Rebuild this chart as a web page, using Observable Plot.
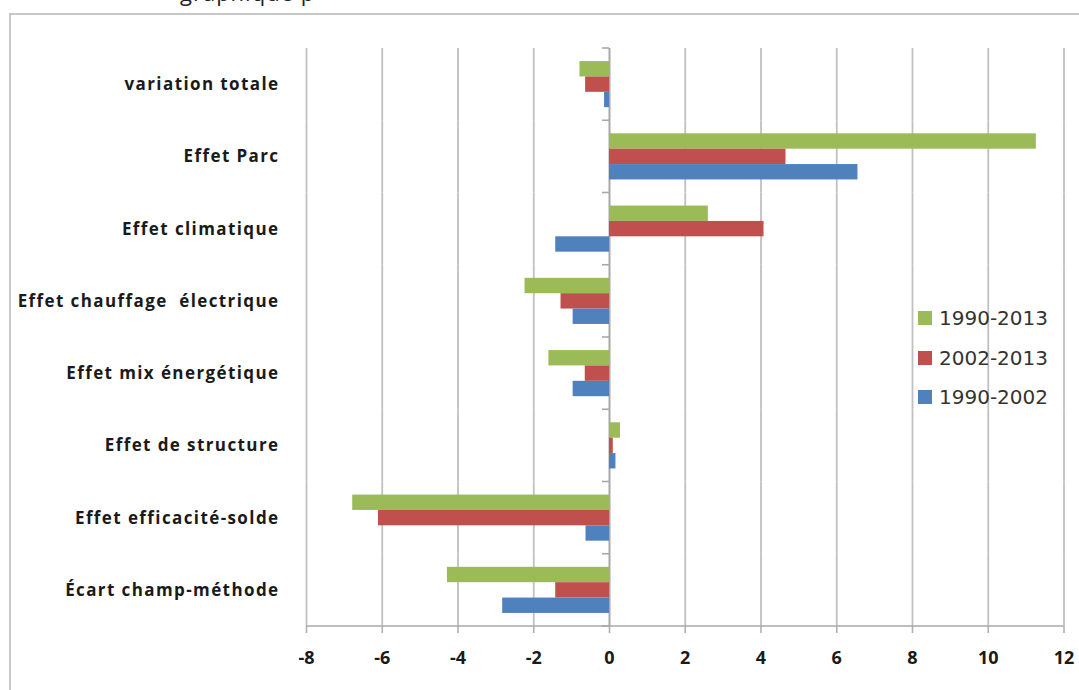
<!DOCTYPE html>
<html><head><meta charset="utf-8">
<script src="https://cdn.jsdelivr.net/npm/d3@7"></script>
<script src="https://cdn.jsdelivr.net/npm/@observablehq/plot@0.6"></script>
<style>
body{margin:0;background:#fff;width:1079px;height:690px;overflow:hidden;position:relative;font-family:"Open Sans",sans-serif;}
#toptext{position:absolute;left:180px;top:-23px;font-size:22px;letter-spacing:1px;color:#222;white-space:nowrap;}
#frame{position:absolute;left:9px;top:13px;width:1200px;height:800px;border:2px solid #c8c8c8;box-sizing:border-box;}
#chart{position:absolute;left:0;top:0;}
#legend{position:absolute;left:918px;top:305px;font-family:"DejaVu Sans",sans-serif;font-size:20px;color:#333;}
#legend .row{height:39.5px;display:flex;align-items:flex-start;line-height:26px;}
#legend .sw{width:14px;height:14px;margin:6px 7px 0 0;}
</style></head>
<body>
<div id="toptext">graphique p</div>
<div id="frame"></div>
<div id="chart"></div>
<div id="legend"></div>
<script>
const categories = ["variation totale","Effet Parc","Effet climatique","Effet chauffage  électrique","Effet mix énergétique","Effet de structure","Effet efficacité-solde","Écart champ-méthode"];
const series = ["1990-2013","2002-2013","1990-2002"];
const v1990_2013 = [-0.78, 11.27, 2.61, -2.23, -1.6, 0.29, -6.78, -4.28];
const v2002_2013 = [-0.63, 4.66, 4.08, -1.28, -0.64, 0.1, -6.1, -1.42];
const v1990_2002 = [-0.13, 6.56, -1.42, -0.96, -0.96, 0.17, -0.62, -2.82];
const xTicks = [-8,-6,-4,-2,0,2,4,6,8,10,12];
const colors = ["#9BBB59","#C0504D","#4F81BD"];

const seriesValues = [v1990_2013, v2002_2013, v1990_2002];
const rows = [];
categories.forEach((c,i)=>series.forEach((s,j)=>rows.push({cat:c, series:s, value:seriesValues[j][i]})));

const plot = Plot.plot({
  width:1079, height:690,
  marginLeft:306, marginRight:15.5, marginTop:48, marginBottom:64,
  style:{fontFamily:"'Open Sans', sans-serif", color:"#1a1a1a", background:"transparent", overflow:"visible"},
  x:{domain:[-8,12], axis:null, label:null},
  fy:{domain:categories, padding:0, axis:null, round:false, label:null},
  y:{domain:series, paddingInner:0, paddingOuter:0.85, axis:null, round:false, label:null},
  color:{domain:series, range:colors},
  marks:[
    Plot.gridX(xTicks, {stroke:"#c0c0c0", strokeOpacity:1, strokeWidth:1.8}),
    Plot.ruleX([0], {stroke:"#a8a8a8", strokeWidth:1.6}),
    Plot.barX(rows, {x:"value", y:"series", fy:"cat", fill:"series"}),
    Plot.axisX(xTicks, {anchor:"bottom", label:null, tickSize:7, tickPadding:18, fontSize:18, fontWeight:"bold", stroke:"#b0b0b0", strokeWidth:1.6, tickFormat:d=>String(d).replace("−","-")}),
    Plot.axisFy({anchor:"left", label:null, tickSize:0, tickPadding:27, fontSize:17, fontWeight:"bold", tickFormat:d=>d})
  ]
});
document.getElementById("chart").appendChild(plot);

// axis line at bottom and small category ticks on the zero line, positioned with Plot's own scales
const xs = plot.scale("x"), fys = plot.scale("fy");
const svg = d3.select(plot);
const g = svg.append("g").attr("stroke","#a8a8a8").attr("stroke-width",1.6);
const yBottom = fys.apply(categories[categories.length-1]) + fys.bandwidth;
g.append("line").attr("x1",xs.apply(-8)).attr("x2",xs.apply(12)).attr("y1",yBottom).attr("y2",yBottom);
const x0 = xs.apply(0);
categories.forEach(c=>{const y=fys.apply(c); g.append("line").attr("x1",x0-7).attr("x2",x0).attr("y1",y).attr("y2",y);});
g.append("line").attr("x1",x0-7).attr("x2",x0).attr("y1",yBottom).attr("y2",yBottom);
svg.selectAll("text").attr("xml:space","preserve").style("white-space","pre");
svg.selectAll('[aria-label="fy-axis tick label"] text').style("letter-spacing","1.4px");

const leg = d3.select("#legend");
series.forEach((s,i)=>{const r=leg.append("div").attr("class","row");r.append("div").attr("class","sw").style("background",colors[i]);r.append("span").text(s);});
</script>
</body></html>
